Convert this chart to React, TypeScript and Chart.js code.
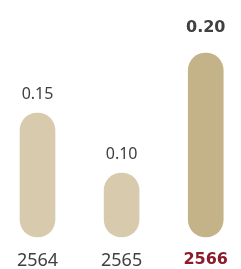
import React, { useEffect, useRef } from "react";
import { Chart, registerables } from "chart.js";

Chart.register(...registerables);

const categories = ["2564", "2565", "2566"];
const values = [0.15, 0.1, 0.2];
const valueLabels = ["0.15", "0.10", "0.20"];
const barColors = ["#d8cbad", "#d8cbad", "#c4b388"];
const highlightIndex = 2;
const axisMin = 0.0467;
const axisMax = 0.2442;

const textColor = "#404040";
const highlightColor = "#8b1c2c";

const valueLabelPlugin = {
  id: "valueLabels",
  afterDatasetsDraw(chart: any) {
    const ctx = chart.ctx;
    const meta = chart.getDatasetMeta(0);
    ctx.save();
    ctx.textAlign = "center";
    ctx.textBaseline = "middle";
    meta.data.forEach((bar: any, i: number) => {
      const bold = i === highlightIndex;
      ctx.font = bold ? "bold 16px 'DejaVu Sans'" : "16px 'Noto Sans'";
      ctx.fillStyle = textColor;
      ctx.fillText(valueLabels[i], bar.x, bar.y - (bold ? 25 : 19));
    });
    ctx.restore();
  },
};

export default function App() {
  const ref = useRef<HTMLCanvasElement | null>(null);
  useEffect(() => {
    if (!ref.current) return;
    const chart = new Chart(ref.current, {
      type: "bar",
      data: {
        labels: categories,
        datasets: [
          {
            data: values,
            base: axisMin,
            backgroundColor: barColors,
            borderRadius: 18,
            borderSkipped: false,
            barThickness: 35,
            clip: false as any,
          } as any,
        ],
      },
      options: {
        animation: false,
        responsive: false,
        maintainAspectRatio: false,
        layout: { padding: { left: 37.5, right: 26.5, top: 0, bottom: 0 } },
        plugins: { legend: { display: false }, tooltip: { enabled: false } },
        scales: {
          x: {
            offset: false,
            grid: { display: false, drawTicks: false },
            border: { display: false },
            afterFit: (s: any) => {
              s.height = 32;
            },
            ticks: {
              padding: 13,
              maxRotation: 0,
              autoSkip: false,
              color: (c: any) => (c.index === highlightIndex ? highlightColor : textColor),
              font: (c: any) =>
                c.index === highlightIndex
                  ? { family: "'DejaVu Sans'", size: 16, weight: "bold" }
                  : { family: "'Noto Sans'", size: 18 },
            },
          },
          y: {
            display: false,
            min: axisMin,
            max: axisMax,
          },
        },
      },
      plugins: [valueLabelPlugin],
    });
    return () => chart.destroy();
  }, []);
  return (
    <div style={{ position: "fixed", left: 0, top: 0, width: 241, height: 269, overflow: "hidden", background: "#fff" }}>
      <canvas ref={ref} width={241} height={269} style={{ display: "block", width: 241, height: 269 }} />
    </div>
  );
}
